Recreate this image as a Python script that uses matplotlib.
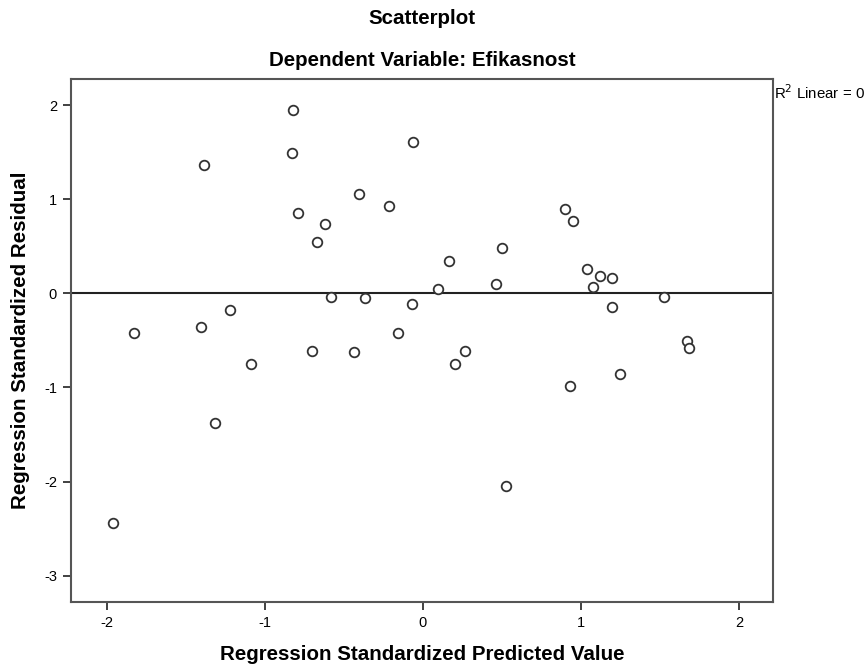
import numpy as np
import matplotlib
matplotlib.use('Agg')
import matplotlib.pyplot as plt

plt.rcParams['font.family'] = ['Liberation Sans', 'DejaVu Sans']
plt.rcParams['axes.unicode_minus'] = False

# regression standardized predicted value
pred = [-1.959, -1.828, -1.404, -1.385, -1.313, -1.218, -1.089, -0.823, -0.830, -0.788,
        -0.699, -0.672, -0.619, -0.581, -0.433, -0.405, -0.368, -0.212, -0.157, -0.068,
        -0.060, 0.098, 0.166, 0.202, 0.269, 0.461, 0.503, 0.527, 0.902, 0.934,
        0.953, 1.037, 1.079, 1.124, 1.195, 1.197, 1.250, 1.529, 1.670, 1.681]
# regression standardized residual
resid = [-2.44, -0.42, -0.36, 1.366, -1.38, -0.18, -0.75, 1.944, 1.487, 0.85,
         -0.613, 0.54, 0.736, -0.04, -0.627, 1.06, -0.046, 0.924, -0.42, -0.11,
         1.61, 0.05, 0.34, -0.754, -0.613, 0.10, 0.485, -2.05, 0.892, -0.98,
         0.772, 0.258, 0.064, 0.187, -0.145, 0.163, -0.857, -0.04, -0.503, -0.581]

xticks = [-2, -1, 0, 1, 2]
yticks = [-3, -2, -1, 0, 1, 2]

fig = plt.figure(figsize=(8.68, 6.68), dpi=100)
ax = fig.add_axes([0.0818, 0.0984, 0.8088, 0.7833])

ax.axhline(0, color='#222222', lw=1.5, zorder=1)
ax.scatter(pred, resid, s=48, facecolors='white', edgecolors='#333333',
           linewidths=1.3, zorder=2)

ax.set_xlim(-2.227, 2.216)
ax.set_ylim(-3.282, 2.276)
ax.set_xticks(xticks)
ax.set_yticks(yticks)
ax.tick_params(direction='out', length=6, width=1.3, color='#333333',
               labelsize=10.5, pad=4)
for s in ax.spines.values():
    s.set_color('#555555')
    s.set_linewidth(1.5)

ax.set_xlabel('Regression Standardized Predicted Value', fontsize=14.8,
              fontweight='bold', labelpad=11)
ax.set_ylabel('Regression Standardized Residual', fontsize=14.8,
              fontweight='bold', labelpad=10)

fig.text(0.486, 0.973, 'Scatterplot', ha='center', va='center',
         fontsize=14.8, fontweight='bold')
fig.text(0.486, 0.910, 'Dependent Variable: Efikasnost', ha='center',
         va='center', fontsize=14.8, fontweight='bold')
fig.text(0.892, 0.862, 'R$^2$ Linear = 0', ha='left', va='center', fontsize=10.8)

fig.savefig('out.png', dpi=100)
